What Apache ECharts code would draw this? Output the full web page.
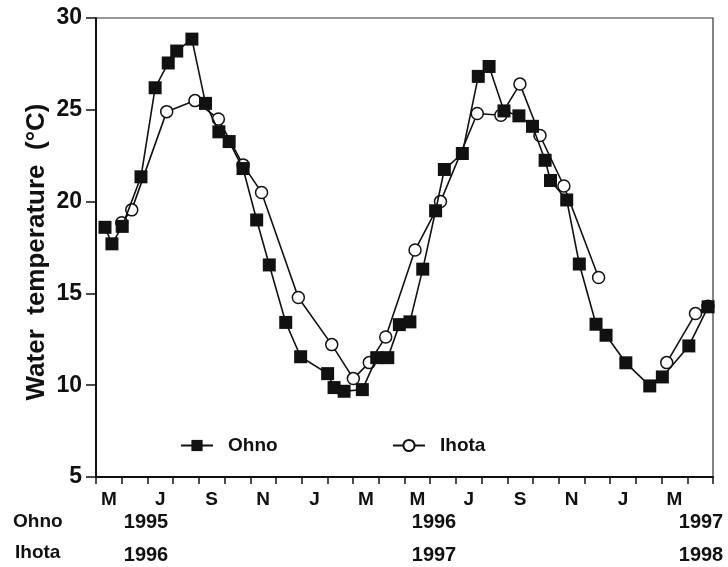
<!DOCTYPE html>
<html>
<head>
<meta charset="utf-8">
<script src="https://cdn.jsdelivr.net/npm/echarts@6/dist/echarts.min.js"></script>
<style>
html,body{margin:0;padding:0;background:#fff;}
#c{width:728px;height:567px;}
</style>
</head>
<body>
<div id="c"></div>
<script>
// Months since 1 May (Ohno 1995 / Ihota 1996)
var monthNames = ['May','Jun','Jul','Aug','Sep','Oct','Nov','Dec','Jan','Feb','Mar','Apr',
                  'May','Jun','Jul','Aug','Sep','Oct','Nov','Dec','Jan','Feb','Mar','Apr'];
var yTicks = [5, 10, 15, 20, 25, 30];

var ohnoMonths = [0.35,0.62,1.02,1.75,2.3,2.81,3.14,3.73,4.26,4.78,5.18,5.72,6.25,6.74,7.38,7.96,9.01,9.26,9.65,10.36,10.92,11.35,11.8,12.21,12.71,13.21,13.55,14.25,14.87,15.29,15.87,16.45,16.98,17.47,17.68,18.31,18.8,19.45,19.84,20.61,21.54,22.03,23.06,23.81];
var ohnoTemps  = [18.6,17.7,18.65,21.35,26.2,27.55,28.2,28.85,25.35,23.8,23.27,21.8,19.0,16.55,13.42,11.55,10.63,9.87,9.67,9.76,11.5,11.5,13.3,13.45,16.32,19.5,21.75,22.62,26.82,27.36,24.94,24.67,24.1,22.25,21.15,20.09,16.6,13.32,12.72,11.22,9.96,10.45,12.14,14.27];

var ihotaMonths = [1.0,1.39,2.75,3.85,4.76,5.72,6.44,7.87,9.17,10.01,10.63,11.27,12.41,13.4,14.83,15.75,16.49,17.27,18.2,19.55,21.0,22.2,23.32,23.8];
var ihotaTemps  = [18.85,19.55,24.9,25.5,24.5,22.0,20.5,14.78,12.21,10.36,11.23,12.63,17.36,20.0,24.8,24.7,26.4,23.6,20.85,15.87,null,11.23,13.9,14.3];

var yearRowLabels = ['Ohno', 'Ihota'];
var ohnoYears = ['1995', '1996', '1997'];
var ihotaYears = ['1996', '1997', '1998'];

function zip(xs, ys){ return xs.map(function(x,i){ return [x, ys[i]]; }); }

var FONT = '"Liberation Sans", Arial, Helvetica, sans-serif';
var INK = '#111';

var chart = echarts.init(document.getElementById('c'), null, {renderer:'canvas'});

var yearX = [146, 434, 701];
var graphics = [
  {type:'text', left:13, top:512, style:{text:yearRowLabels[0], font:'bold 19px '+FONT, fill:INK}},
  {type:'text', left:15, top:543, style:{text:yearRowLabels[1], font:'bold 19px '+FONT, fill:INK}},
  {type:'text', x:37, y:252, rotation:Math.PI/2,
   style:{text:'Water  temperature  (\u00B0C)', font:'bold 26px '+FONT, fill:INK, textAlign:'center', textVerticalAlign:'middle'}}
];
ohnoYears.forEach(function(t,i){
  graphics.push({type:'text', x:yearX[i], y:522, style:{text:t, font:'bold 20px '+FONT, fill:INK, textAlign:'center', textVerticalAlign:'middle'}});
});
ihotaYears.forEach(function(t,i){
  graphics.push({type:'text', x:yearX[i], y:555, style:{text:t, font:'bold 20px '+FONT, fill:INK, textAlign:'center', textVerticalAlign:'middle'}});
});

var legendCommon = {
  top: 431, itemWidth: 32, itemHeight: 14, itemGap: 0,
  textStyle: {fontSize: 19, fontWeight: 'bold', color: INK, fontFamily: FONT, padding:[0,0,0,10]}
};

chart.setOption({
  animation: false,
  backgroundColor: '#fff',
  grid: {left: 96, right: 15, top: 18, bottom: 90, show: true, borderColor: '#333', borderWidth: 1.2, backgroundColor:'transparent'},
  legend: [
    Object.assign({data:['Ohno'], left:175}, legendCommon),
    Object.assign({data:['Ihota'], left:387}, legendCommon)
  ],
  xAxis: [
    {type:'value', min:0, max:24, interval:1, position:'bottom',
     axisLine:{show:true, onZero:false, lineStyle:{color:INK, width:2}},
     axisTick:{show:true, length:7, lineStyle:{color:INK, width:1.5}},
     axisLabel:{show:false}, splitLine:{show:false}},
    {type:'category', data: monthNames, position:'bottom', boundaryGap:true,
     axisLine:{show:false}, axisTick:{show:false}, splitLine:{show:false},
     axisLabel:{interval:1, margin:13, fontSize:19, fontWeight:'bold', color:INK, fontFamily:FONT,
                formatter:function(v){ return v.charAt(0); }}}
  ],
  yAxis: {type:'value', min:yTicks[0], max:yTicks[yTicks.length-1], interval:5,
    axisLine:{show:true, onZero:false, lineStyle:{color:INK, width:2}},
    axisTick:{show:true, length:10, lineStyle:{color:INK, width:1.5}},
    axisLabel:{margin:14, fontSize:23, fontWeight:'bold', color:INK, fontFamily:FONT},
    splitLine:{show:false}},
  graphic: graphics,
  series: [
    {name:'Ihota', type:'line', xAxisIndex:0, data: zip(ihotaMonths, ihotaTemps),
     symbol:'circle', symbolSize:12, connectNulls:false,
     lineStyle:{color:INK, width:1.6},
     itemStyle:{color:'#fff', borderColor:INK, borderWidth:1.5}, z:2},
    {name:'Ohno', type:'line', xAxisIndex:0, data: zip(ohnoMonths, ohnoTemps),
     symbol:'rect', symbolSize:13,
     lineStyle:{color:INK, width:1.6},
     itemStyle:{color:INK, borderColor:INK, borderWidth:0}, z:3}
  ]
});
</script>
</body>
</html>
